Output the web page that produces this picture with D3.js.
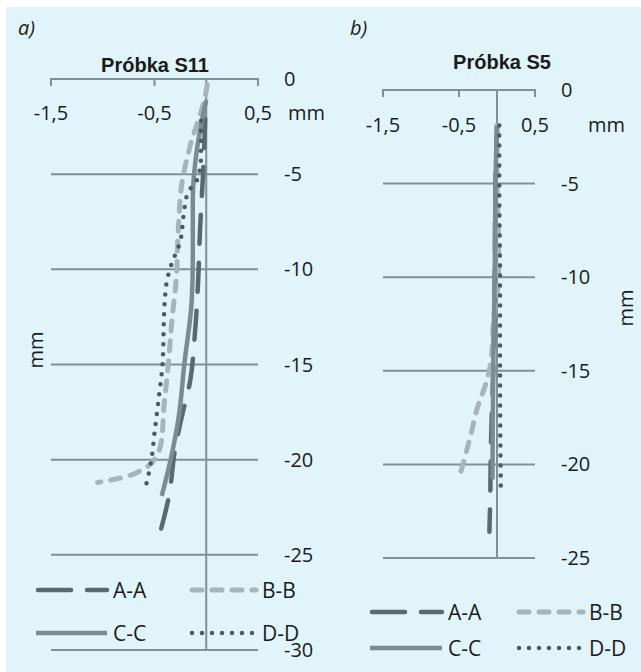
<!DOCTYPE html>
<html>
<head>
<meta charset="utf-8">
<script src="https://cdn.jsdelivr.net/npm/d3@7"></script>
<style>
  body { margin: 0; background: #fff; }
  text { font-family: "Open Sans", "Noto Sans", sans-serif; fill: #1b1b1b; }
</style>
</head>
<body>
<div id="container"></div>
<script>
// dane: [przemieszczenie mm, głębokość mm]
const seriesNames = ["A-A", "B-B", "C-C", "D-D"];
const xTicks = [-1.5, -0.5, 0.5];

// próbka S11
const s11_AA = [[-0.01,-2.1],[-0.03,-4.9],[-0.06,-7.9],[-0.08,-10.8],[-0.11,-13.4],[-0.16,-16.0],[-0.23,-17.6],[-0.30,-19.4],[-0.36,-21.9],[-0.47,-24.3]];
const s11_BB = [[0.01,-0.3],[-0.01,-0.9],[-0.16,-3.6],[-0.23,-5.3],[-0.27,-7.9],[-0.29,-10.5],[-0.33,-12.6],[-0.37,-15.2],[-0.41,-17.3],[-0.43,-18.9],[-0.47,-19.7],[-0.61,-20.5],[-0.78,-20.9],[-1.05,-21.2]];
const s11_CC = [[0.0,-1.1],[-0.09,-3.7],[-0.13,-6.3],[-0.13,-9.5],[-0.14,-11.6],[-0.21,-14.9],[-0.27,-17.9],[-0.34,-19.9],[-0.43,-21.9]];
const s11_DD = [[-0.05,-2.2],[-0.05,-4.0],[-0.08,-5.2],[-0.18,-6.0],[-0.22,-7.2],[-0.25,-8.5],[-0.34,-9.8],[-0.38,-10.6],[-0.40,-11.6],[-0.41,-12.8],[-0.42,-14.8],[-0.46,-16.8],[-0.50,-18.6],[-0.53,-20.0],[-0.58,-21.3]];

// próbka S5
const s5_AA = [[0.0,-1.9],[-0.02,-5],[-0.03,-10],[-0.05,-15],[-0.08,-19],[-0.09,-22],[-0.10,-23.6]];
const s5_BB = [[0.0,-1.9],[0.0,-5],[0.02,-8],[0.02,-10],[-0.04,-12],[-0.08,-14.5],[-0.14,-15.6],[-0.26,-17],[-0.35,-18.5],[-0.49,-20.6]];
const s5_CC = [[0.0,-1.9],[-0.02,-5],[-0.03,-10],[-0.05,-15],[-0.06,-20.8]];
const s5_DD = [[0.03,-1.9],[0.03,-5],[0.04,-10],[0.04,-15],[0.05,-21.4]];

const W = 641, H = 672;

const styles = {
  "A-A": { color: "#566a70", width: 4.5, dash: "29,19", cap: "round" },
  "B-B": { color: "#a6b5ba", width: 5, dash: "10,10", cap: "round" },
  "C-C": { color: "#7a8c91", width: 4.5, dash: null, cap: "butt" },
  "D-D": { color: "#4a5c62", width: 4.5, dash: "0,10", cap: "round" }
};

const svg = d3.create("svg")
    .attr("width", W)
    .attr("height", H);

svg.append("rect")
    .attr("x", 6).attr("y", 7)
    .attr("width", W - 6).attr("height", H - 7)
    .attr("fill", "#e0f4fa");

// zwykły łącznik i przecinek dziesiętny
const fmt = v => String(v).replace(".", ",");

const panels = [
  { tag: "a)", tagX: 18, tagY: 35, title: "Próbka S11", titleX: 155, titleY: 72,
    xRange: [51, 258], yRange: [650, 79], yMin: -30,
    xLabY: 120, yLabX: 284, unitX: 288, unitY: 120, yTitleX: 43, yTitleY: 350,
    data: [s11_AA, s11_BB, s11_CC, s11_DD],
    legX: [36, 190], legY: [590, 633], legLen: [71, 66] },
  { tag: "b)", tagX: 350, tagY: 35, title: "Próbka S5", titleX: 502, titleY: 69,
    xRange: [383, 535], yRange: [558, 90], yMin: -25,
    xLabY: 132, yLabX: 561, unitX: 588, unitY: 132, yTitleX: 633, yTitleY: 308,
    data: [s5_AA, s5_BB, s5_CC, s5_DD],
    legX: [370, 517], legY: [612, 648], legLen: [72, 66] }
];

const axisColor = "#7f9196";

panels.forEach(p => {
  const x = d3.scaleLinear().domain([-1.5, 0.5]).range(p.xRange);
  const y = d3.scaleLinear().domain([p.yMin, 0]).range(p.yRange);
  const g = svg.append("g");

  g.append("text").attr("x", p.tagX).attr("y", p.tagY)
      .attr("font-size", 20).attr("font-style", "italic").text(p.tag);
  g.append("text").attr("x", p.titleX).attr("y", p.titleY)
      .attr("text-anchor", "middle").attr("font-size", 20).attr("font-weight", "bold")
      .style("font-family", "'Liberation Sans', Arial, sans-serif")
      .text(p.title);

  // linie siatki
  const grid = d3.range(-5, p.yMin - 1, -5);
  g.selectAll(".grid").data(grid).join("line")
      .attr("x1", x(-1.5)).attr("x2", x(0.5))
      .attr("y1", d => y(d)).attr("y2", d => y(d))
      .attr("stroke", axisColor).attr("stroke-width", 2);

  // oś X (góra)
  g.append("line")
      .attr("x1", x(-1.5)).attr("x2", x(0.5)).attr("y1", y(0)).attr("y2", y(0))
      .attr("stroke", axisColor).attr("stroke-width", 2);
  g.selectAll(".xt").data(xTicks).join("line")
      .attr("x1", d => x(d)).attr("x2", d => x(d))
      .attr("y1", y(0) - 1).attr("y2", y(0) + 7)
      .attr("stroke", axisColor).attr("stroke-width", 2);
  g.selectAll(".xl").data(xTicks).join("text")
      .attr("x", d => x(d)).attr("y", p.xLabY)
      .attr("text-anchor", "middle").attr("font-size", 20)
      .text(fmt);
  g.append("text").attr("x", p.unitX).attr("y", p.unitY)
      .attr("font-size", 20).text("mm");

  // oś Y
  g.append("line")
      .attr("x1", x(0)).attr("x2", x(0)).attr("y1", y(0) - 1).attr("y2", y(p.yMin))
      .attr("stroke", axisColor).attr("stroke-width", 2);
  g.selectAll(".yl").data(d3.range(0, p.yMin - 1, -5)).join("text")
      .attr("x", p.yLabX).attr("y", d => y(d)).attr("dy", "0.35em")
      .attr("font-size", 20).text(fmt);
  g.append("text")
      .attr("transform", `translate(${p.yTitleX},${p.yTitleY}) rotate(-90)`)
      .attr("text-anchor", "middle").attr("font-size", 20).text("mm");

  // serie
  const line = d3.line().x(d => x(d[0])).y(d => y(d[1])).curve(d3.curveMonotoneY);
  p.data.forEach((s, i) => {
    const st = styles[seriesNames[i]];
    g.append("path").datum(s)
        .attr("d", line)
        .attr("fill", "none")
        .attr("stroke", st.color)
        .attr("stroke-width", st.width)
        .attr("stroke-linecap", st.cap)
        .attr("stroke-linejoin", "round")
        .attr("stroke-dasharray", st.dash);
  });

  // legenda
  seriesNames.forEach((name, i) => {
    const st = styles[name];
    const col = i % 2, row = Math.floor(i / 2);
    const lx = p.legX[col], ly = p.legY[row];
    g.append("line")
        .attr("x1", lx + (st.cap === "round" ? 2 : 0)).attr("x2", lx + p.legLen[col])
        .attr("y1", ly).attr("y2", ly)
        .attr("stroke", st.color).attr("stroke-width", st.width)
        .attr("stroke-linecap", st.cap)
        .attr("stroke-dasharray", name === "A-A" ? "33,16" : st.dash);
    g.append("text").attr("x", lx + p.legLen[col] + 6).attr("y", ly).attr("dy", "0.36em")
        .attr("font-size", 21).text(name);
  });
});

d3.select("#container").node().append(svg.node());
</script>
</body>
</html>
